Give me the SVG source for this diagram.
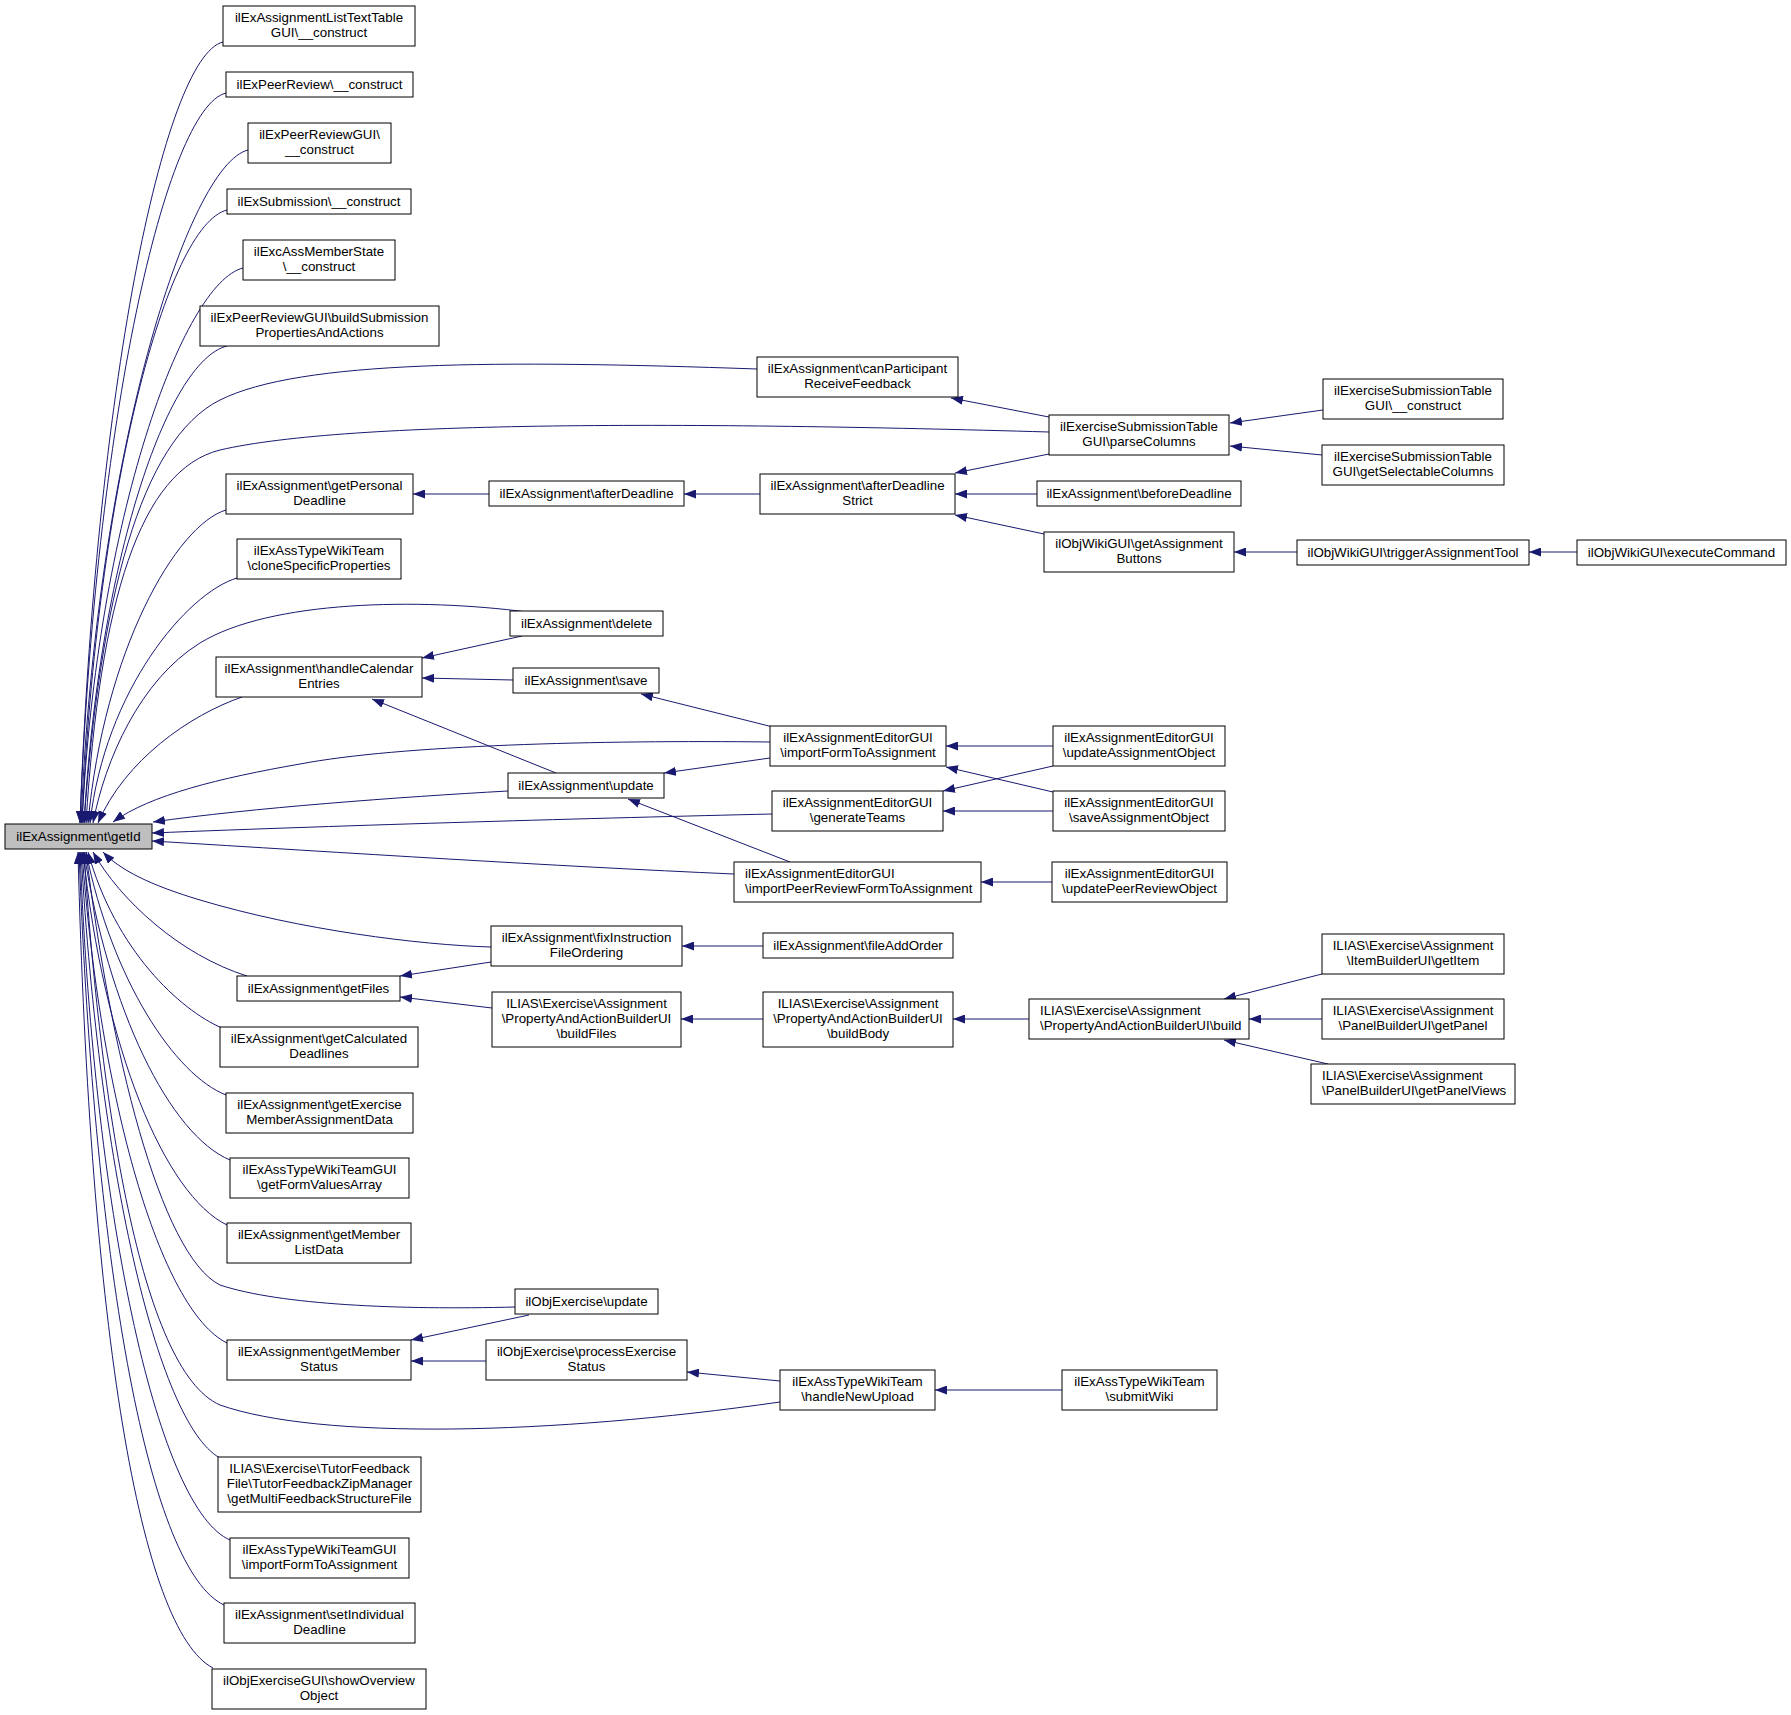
<svg xmlns="http://www.w3.org/2000/svg" width="1791" height="1715" viewBox="0 0 1791 1715">
<style>
.n rect{fill:#fff;stroke:#000;stroke-width:1}
.n text{font-family:"Liberation Sans",Arial,Helvetica,sans-serif;font-size:13.33px;text-anchor:middle;fill:#000}
.n text.l{text-anchor:start}
#n10 rect{fill:#bfbfbf}
.e path{fill:none;stroke:#191970;stroke-width:1;marker-end:url(#a)}
</style>
<defs>
<marker id="a" markerUnits="userSpaceOnUse" markerWidth="12" markerHeight="9" viewBox="0 0 12 9" refX="12" refY="4.5" orient="auto">
<path d="M0,0 L12,4.5 L0,9 z" fill="#191970"/>
</marker>
</defs>
<rect width="1791" height="1715" fill="#fff"/>
<g id="edges" class="e">
<path d="M223,42 C163,57 95,395 80,823"/>
<path d="M226,93 C166,108 95,421 80,823"/>
<path d="M248,150 C188,165 96,453 81,823"/>
<path d="M227,210 C167,225 97,486 82,823"/>
<path d="M243,268 C183,283 97,518 82,823"/>
<path d="M227,346 C167,361 99,561 84,823"/>
<path d="M757,369 C500,360 300,360 220,400 C140,440 100,600 84,823"/>
<path d="M1049,432 C700,422 350,420 220,450 C140,470 100,600 86,823"/>
<path d="M226,510 C176,525 104,651 88,823"/>
<path d="M237,578 C187,593 105,690 90,823"/>
<path d="M527,612 C420,598 270,600 200,643 C140,680 105,760 93,823"/>
<path d="M242,697 C190,715 125,760 98,823"/>
<path d="M770,742 C600,740 400,745 300,764 C220,778 150,795 113,822"/>
<path d="M508,791 C400,797 250,808 153,822"/>
<path d="M772,814 C600,818 350,825 152,833"/>
<path d="M734,874 C550,866 350,853 152,841"/>
<path d="M491,947 C420,945 300,930 200,900 C150,885 120,870 103,852"/>
<path d="M247,976 C180,955 120,900 93,852"/>
<path d="M222,1028 C180,1010 115,950 88,852"/>
<path d="M226,1095 C175,1075 112,980 86,852"/>
<path d="M230,1160 C170,1135 108,1010 84,852"/>
<path d="M227,1225 C165,1195 104,1050 83,852"/>
<path d="M515,1307 C400,1310 280,1305 220,1285 C160,1255 110,1050 86,852"/>
<path d="M227,1343 C160,1310 100,1100 82,852"/>
<path d="M780,1402 C550,1435 320,1440 220,1405 C140,1370 100,1100 84,852"/>
<path d="M222,1459 C160,1430 100,1180 81,852"/>
<path d="M230,1540 C160,1510 95,1230 80,852"/>
<path d="M224,1605 C150,1570 95,1280 79,852"/>
<path d="M213,1668 C140,1630 90,1330 78,852"/>
<path d="M1049,417 L951,398"/>
<path d="M1323,410 L1230,423"/>
<path d="M1322,455 L1230,446"/>
<path d="M1049,454 L955,473"/>
<path d="M1037,494 L955,494"/>
<path d="M1044,534 L955,515"/>
<path d="M1297,552 L1234,552"/>
<path d="M1577,552 L1529,552"/>
<path d="M760,494 L684,494"/>
<path d="M489,494 L413,494"/>
<path d="M522,636 L422,658"/>
<path d="M513,680 L422,678"/>
<path d="M556,773 L372,699"/>
<path d="M773,727 L641,694"/>
<path d="M770,758 L664,773"/>
<path d="M1053,746 L946,746"/>
<path d="M1053,792 L946,767"/>
<path d="M1053,766 L943,791"/>
<path d="M1053,811 L943,811"/>
<path d="M790,862 L628,799"/>
<path d="M1052,882 L981,882"/>
<path d="M763,946 L682,946"/>
<path d="M491,962 L400,976"/>
<path d="M492,1008 L400,997"/>
<path d="M763,1019 L681,1019"/>
<path d="M1029,1019 L953,1019"/>
<path d="M1322,974 L1224,999"/>
<path d="M1322,1019 L1249,1019"/>
<path d="M1328,1064 L1224,1040"/>
<path d="M529,1315 L411,1340"/>
<path d="M486,1361 L411,1361"/>
<path d="M780,1381 L687,1372"/>
<path d="M1062,1390 L935,1390"/>
</g>
<g id="n1" class="n"><rect x="223" y="6" width="192" height="40"/><text x="319" y="22">ilExAssignmentListTextTable</text><text x="319" y="37">GUI\__construct</text></g>
<g id="n2" class="n"><rect x="226" y="72" width="187" height="25"/><text x="319.5" y="89">ilExPeerReview\__construct</text></g>
<g id="n3" class="n"><rect x="248" y="123" width="143" height="40"/><text x="319.5" y="139">ilExPeerReviewGUI\</text><text x="319.5" y="154">__construct</text></g>
<g id="n4" class="n"><rect x="227" y="189" width="184" height="25"/><text x="319" y="206">ilExSubmission\__construct</text></g>
<g id="n5" class="n"><rect x="243" y="240" width="152" height="40"/><text x="319" y="256">ilExcAssMemberState</text><text x="319" y="271">\__construct</text></g>
<g id="n6" class="n"><rect x="200" y="306" width="239" height="40"/><text x="319.5" y="322">ilExPeerReviewGUI\buildSubmission</text><text x="319.5" y="337">PropertiesAndActions</text></g>
<g id="n7" class="n"><rect x="226" y="474" width="187" height="40"/><text x="319.5" y="490">ilExAssignment\getPersonal</text><text x="319.5" y="505">Deadline</text></g>
<g id="n8" class="n"><rect x="237" y="539" width="164" height="40"/><text x="319" y="555">ilExAssTypeWikiTeam</text><text x="319" y="570">\cloneSpecificProperties</text></g>
<g id="n9" class="n"><rect x="216" y="657" width="206" height="40"/><text x="319" y="673">ilExAssignment\handleCalendar</text><text x="319" y="688">Entries</text></g>
<g id="n10" class="n"><rect x="5" y="824" width="147" height="25"/><text x="78.5" y="841">ilExAssignment\getId</text></g>
<g id="n11" class="n"><rect x="237" y="976" width="163" height="25"/><text x="318.5" y="993">ilExAssignment\getFiles</text></g>
<g id="n12" class="n"><rect x="220" y="1027" width="198" height="40"/><text x="319" y="1043">ilExAssignment\getCalculated</text><text x="319" y="1058">Deadlines</text></g>
<g id="n13" class="n"><rect x="226" y="1093" width="187" height="40"/><text x="319.5" y="1109">ilExAssignment\getExercise</text><text x="319.5" y="1124">MemberAssignmentData</text></g>
<g id="n14" class="n"><rect x="230" y="1158" width="179" height="40"/><text x="319.5" y="1174">ilExAssTypeWikiTeamGUI</text><text x="319.5" y="1189">\getFormValuesArray</text></g>
<g id="n15" class="n"><rect x="227" y="1223" width="184" height="40"/><text x="319" y="1239">ilExAssignment\getMember</text><text x="319" y="1254">ListData</text></g>
<g id="n16" class="n"><rect x="227" y="1340" width="184" height="40"/><text x="319" y="1356">ilExAssignment\getMember</text><text x="319" y="1371">Status</text></g>
<g id="n17" class="n"><rect x="218" y="1457" width="203" height="55"/><text x="319.5" y="1473">ILIAS\Exercise\TutorFeedback</text><text x="319.5" y="1488">File\TutorFeedbackZipManager</text><text x="319.5" y="1503">\getMultiFeedbackStructureFile</text></g>
<g id="n18" class="n"><rect x="230" y="1538" width="179" height="40"/><text x="319.5" y="1554">ilExAssTypeWikiTeamGUI</text><text x="319.5" y="1569">\importFormToAssignment</text></g>
<g id="n19" class="n"><rect x="224" y="1603" width="191" height="40"/><text x="319.5" y="1619">ilExAssignment\setIndividual</text><text x="319.5" y="1634">Deadline</text></g>
<g id="n20" class="n"><rect x="212" y="1669" width="214" height="40"/><text x="319" y="1685">ilObjExerciseGUI\showOverview</text><text x="319" y="1700">Object</text></g>
<g id="n21" class="n"><rect x="757" y="357" width="201" height="40"/><text x="857.5" y="373">ilExAssignment\canParticipant</text><text x="857.5" y="388">ReceiveFeedback</text></g>
<g id="n22" class="n"><rect x="489" y="481" width="195" height="25"/><text x="586.5" y="498">ilExAssignment\afterDeadline</text></g>
<g id="n23" class="n"><rect x="760" y="474" width="195" height="40"/><text x="857.5" y="490">ilExAssignment\afterDeadline</text><text x="857.5" y="505">Strict</text></g>
<g id="n24" class="n"><rect x="510" y="611" width="153" height="25"/><text x="586.5" y="628">ilExAssignment\delete</text></g>
<g id="n25" class="n"><rect x="513" y="668" width="146" height="25"/><text x="586" y="685">ilExAssignment\save</text></g>
<g id="n26" class="n"><rect x="770" y="726" width="176" height="40"/><text x="858" y="742">ilExAssignmentEditorGUI</text><text x="858" y="757">\importFormToAssignment</text></g>
<g id="n27" class="n"><rect x="508" y="773" width="156" height="25"/><text x="586" y="790">ilExAssignment\update</text></g>
<g id="n28" class="n"><rect x="772" y="791" width="171" height="40"/><text x="857.5" y="807">ilExAssignmentEditorGUI</text><text x="857.5" y="822">\generateTeams</text></g>
<g id="n29" class="n"><rect x="734" y="862" width="247" height="40"/><text class="l" x="745" y="878">ilExAssignmentEditorGUI</text><text class="l" x="745" y="893">\importPeerReviewFormToAssignment</text></g>
<g id="n30" class="n"><rect x="491" y="926" width="191" height="40"/><text x="586.5" y="942">ilExAssignment\fixInstruction</text><text x="586.5" y="957">FileOrdering</text></g>
<g id="n31" class="n"><rect x="763" y="933" width="190" height="25"/><text x="858" y="950">ilExAssignment\fileAddOrder</text></g>
<g id="n32" class="n"><rect x="492" y="992" width="189" height="55"/><text x="586.5" y="1008">ILIAS\Exercise\Assignment</text><text x="586.5" y="1023">\PropertyAndActionBuilderUI</text><text x="586.5" y="1038">\buildFiles</text></g>
<g id="n33" class="n"><rect x="763" y="992" width="190" height="55"/><text x="858" y="1008">ILIAS\Exercise\Assignment</text><text x="858" y="1023">\PropertyAndActionBuilderUI</text><text x="858" y="1038">\buildBody</text></g>
<g id="n34" class="n"><rect x="515" y="1289" width="143" height="25"/><text x="586.5" y="1306">ilObjExercise\update</text></g>
<g id="n35" class="n"><rect x="486" y="1340" width="201" height="40"/><text x="586.5" y="1356">ilObjExercise\processExercise</text><text x="586.5" y="1371">Status</text></g>
<g id="n36" class="n"><rect x="780" y="1370" width="155" height="40"/><text x="857.5" y="1386">ilExAssTypeWikiTeam</text><text x="857.5" y="1401">\handleNewUpload</text></g>
<g id="n37" class="n"><rect x="1049" y="415" width="180" height="40"/><text x="1139" y="431">ilExerciseSubmissionTable</text><text x="1139" y="446">GUI\parseColumns</text></g>
<g id="n38" class="n"><rect x="1037" y="481" width="204" height="25"/><text x="1139" y="498">ilExAssignment\beforeDeadline</text></g>
<g id="n39" class="n"><rect x="1044" y="532" width="190" height="40"/><text x="1139" y="548">ilObjWikiGUI\getAssignment</text><text x="1139" y="563">Buttons</text></g>
<g id="n40" class="n"><rect x="1053" y="726" width="172" height="40"/><text x="1139" y="742">ilExAssignmentEditorGUI</text><text x="1139" y="757">\updateAssignmentObject</text></g>
<g id="n41" class="n"><rect x="1053" y="791" width="172" height="40"/><text x="1139" y="807">ilExAssignmentEditorGUI</text><text x="1139" y="822">\saveAssignmentObject</text></g>
<g id="n42" class="n"><rect x="1052" y="862" width="175" height="40"/><text x="1139.5" y="878">ilExAssignmentEditorGUI</text><text x="1139.5" y="893">\updatePeerReviewObject</text></g>
<g id="n43" class="n"><rect x="1029" y="999" width="220" height="40"/><text class="l" x="1040" y="1015">ILIAS\Exercise\Assignment</text><text class="l" x="1040" y="1030">\PropertyAndActionBuilderUI\build</text></g>
<g id="n44" class="n"><rect x="1062" y="1370" width="155" height="40"/><text x="1139.5" y="1386">ilExAssTypeWikiTeam</text><text x="1139.5" y="1401">\submitWiki</text></g>
<g id="n45" class="n"><rect x="1323" y="379" width="180" height="40"/><text x="1413" y="395">ilExerciseSubmissionTable</text><text x="1413" y="410">GUI\__construct</text></g>
<g id="n46" class="n"><rect x="1322" y="445" width="182" height="40"/><text x="1413" y="461">ilExerciseSubmissionTable</text><text x="1413" y="476">GUI\getSelectableColumns</text></g>
<g id="n47" class="n"><rect x="1297" y="540" width="232" height="25"/><text x="1413" y="557">ilObjWikiGUI\triggerAssignmentTool</text></g>
<g id="n48" class="n"><rect x="1322" y="934" width="182" height="40"/><text x="1413" y="950">ILIAS\Exercise\Assignment</text><text x="1413" y="965">\ItemBuilderUI\getItem</text></g>
<g id="n49" class="n"><rect x="1322" y="999" width="182" height="40"/><text x="1413" y="1015">ILIAS\Exercise\Assignment</text><text x="1413" y="1030">\PanelBuilderUI\getPanel</text></g>
<g id="n50" class="n"><rect x="1311" y="1064" width="204" height="40"/><text class="l" x="1322" y="1080">ILIAS\Exercise\Assignment</text><text class="l" x="1322" y="1095">\PanelBuilderUI\getPanelViews</text></g>
<g id="n51" class="n"><rect x="1577" y="540" width="209" height="25"/><text x="1681.5" y="557">ilObjWikiGUI\executeCommand</text></g>
</svg>
